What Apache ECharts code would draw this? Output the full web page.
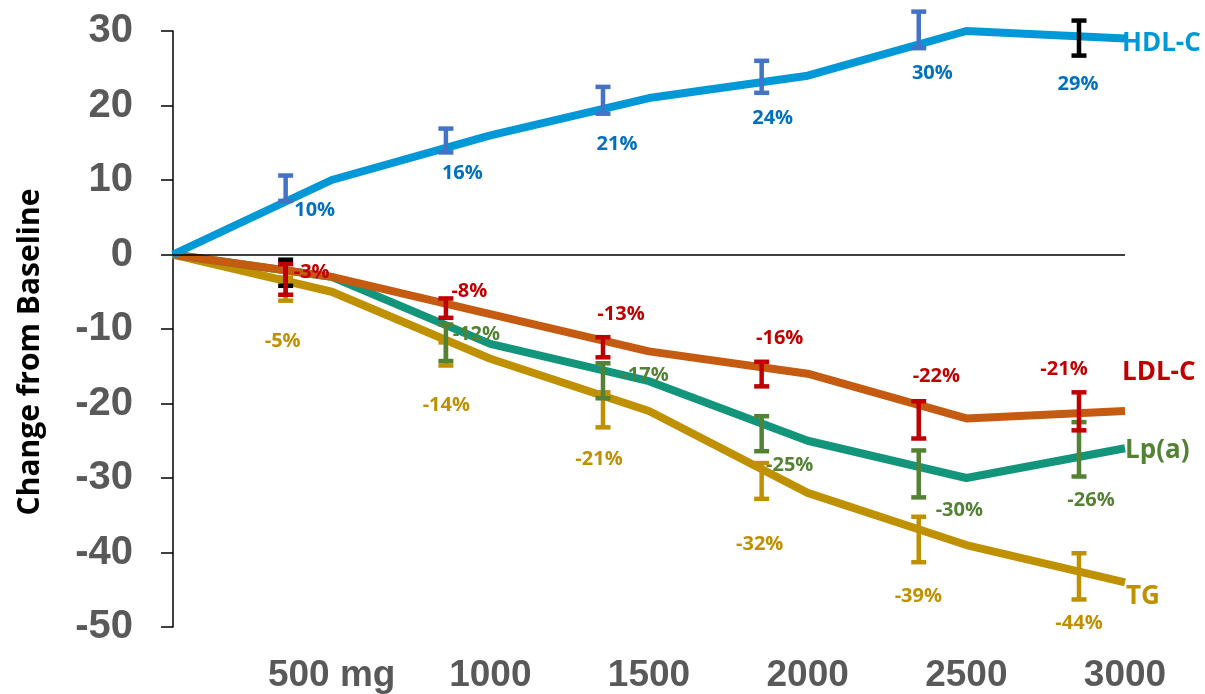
<!DOCTYPE html>
<html>
<head>
<meta charset="utf-8">
<script src="https://cdn.jsdelivr.net/npm/echarts@6/dist/echarts.min.js"></script>
<style>
  html, body { margin: 0; padding: 0; background: #ffffff; }
  #chart { width: 1205px; height: 694px; }
</style>
</head>
<body>
<div id="chart"></div>
<script>
// Dose levels (mg) and mean percent change from baseline per lipid
const doses = [0, 500, 1000, 1500, 2000, 2500, 3000];
const hdlValues = [0, 10, 16, 21, 24, 30, 29];
const ldlValues = [0, -3, -8, -13, -16, -22, -21];
const lpaValues = [0, -3, -12, -17, -25, -30, -26];
const tgValues  = [0, -5, -14, -21, -32, -39, -44];

// Which points carry a percent label (Lp(a) at 500 mg is unlabeled)
const hdlLabeled = [false, true, true, true, true, true, true];
const ldlLabeled = [false, true, true, true, true, true, true];
const lpaLabeled = [false, false, true, true, true, true, true];
const tgLabeled  = [false, true, true, true, true, true, true];

// Error bars, drawn slightly ahead of each dose
const errDoses  = [355, 860, 1355, 1855, 2350, 2855];
const hdlErrLow  = [7.2, 13.7, 18.9, 21.7, 27.7, 26.7];
const hdlErrHigh = [10.6, 16.9, 22.5, 26.0, 32.6, 31.4];
const ldlErrLow  = [-5.4, -8.5, -13.8, -17.7, -24.7, -23.6];
const ldlErrHigh = [-1.3, -5.9, -11.1, -14.4, -19.7, -18.5];
const ldlRefLow  = [-4.2];
const ldlRefHigh = [-0.7];
const lpaErrLow  = [null, -14.3, -19.3, -26.4, -32.6, -29.8];
const lpaErrHigh = [null, -9.4, -14.6, -21.7, -26.3, -22.5];
const tgErrLow   = [-6.2, -14.9, -23.2, -32.8, -41.3, -46.3];
const tgErrHigh  = [-3.1, -11.8, -18.5, -28.0, -35.2, -40.1];

// Axis ranges and steps
const yMin = -50, yMax = 30, yStep = 10;
const xMin = 0, xMax = 3000, xStep = 500;

// Styling
const colors = {
  hdl: '#0098D6', ldl: '#C55A11', lpa: '#12957A', tg: '#BF9000'
};
const textColors = {
  hdl: '#0070C0', ldl: '#C00000', lpa: '#548235', tg: '#BF9000'
};
const nameColors = {
  hdl: '#0098D6', ldl: '#C00000', lpa: '#548235', tg: '#BF9000'
};
// label offsets (px) relative to each dose point
const hdlLabelOffsets = [null, [-17, 30], [-28, 38], [-32, 46], [-35, 43], [-34, 42], [-47, 46]];
const ldlLabelOffsets = [null, [-20, -5], [-21, -23], [-28, -37], [-28, -35], [-30, -42], [-61, -42]];
const lpaLabelOffsets = [null, null, [-14, -10], [-4, -6], [-18, 25], [-7, 32], [-34, 52]];
const tgLabelOffsets  = [null, [-49, 50], [-44, 46], [-50, 48], [-48, 51], [-48, 51], [-46, 41]];
const endOffsets = { hdl: [-3, 5], ldl: [-3, -38], lpa: [0, 2], tg: [1, 14] };

const labelFont = '"Open Sans", "Noto Sans", sans-serif';

function lineSeries(name, key, values, labeled, offsets, extra) {
  const data = doses.map((d, i) => {
    const item = { value: [d, values[i]] };
    if (labeled[i]) {
      item.label = { show: true, offset: offsets[i] };
    }
    return item;
  });
  return Object.assign({
    name: name,
    type: 'line',
    data: data,
    z: 3,
    symbol: 'circle',
    symbolSize: 1,
    showSymbol: true,
    itemStyle: { color: 'rgba(0,0,0,0)', borderWidth: 0 },
    lineStyle: { color: colors[key], width: 8, cap: 'butt', join: 'round' },
    label: {
      show: false,
      position: 'inside',
      align: 'center',
      verticalAlign: 'middle',
      formatter: p => p.value[1] + '%',
      color: textColors[key],
      fontFamily: labelFont,
      fontWeight: 'bold',
      fontSize: 20
    },
    endLabel: {
      show: true,
      formatter: '{a}',
      distance: 0,
      offset: endOffsets[key],
      align: 'left',
      verticalAlign: 'middle',
      color: nameColors[key],
      fontFamily: labelFont,
      fontWeight: 'bold',
      fontSize: 26
    },
    emphasis: { disabled: true },
    silent: true
  }, extra || {});
}

function errorSeries(name, xs, lows, highs, colorOf, z) {
  const data = [];
  xs.forEach((x, i) => {
    if (lows[i] != null) data.push([x, lows[i], highs[i], i]);
  });
  return {
    name: name,
    type: 'custom',
    z: z,
    silent: true,
    encode: { x: 0, y: [1, 2] },
    data: data,
    renderItem: (params, api) => {
      const x = api.value(0);
      const lo = api.coord([x, api.value(1)]);
      const hi = api.coord([x, api.value(2)]);
      const hw = 7.5;
      const style = { stroke: colorOf(api.value(3)), lineWidth: 4.5, fill: null };
      return {
        type: 'group',
        children: [
          { type: 'line', shape: { x1: lo[0], y1: lo[1], x2: hi[0], y2: hi[1] }, style: style },
          { type: 'line', shape: { x1: lo[0] - hw, y1: lo[1], x2: lo[0] + hw, y2: lo[1] }, style: style },
          { type: 'line', shape: { x1: hi[0] - hw, y1: hi[1], x2: hi[0] + hw, y2: hi[1] }, style: style }
        ]
      };
    }
  };
}

const chart = echarts.init(document.getElementById('chart'), null, { renderer: 'canvas' });

const option = {
  animation: false,
  backgroundColor: '#ffffff',
  grid: { left: 173, right: 80, top: 31, bottom: 67 },
  xAxis: {
    type: 'value',
    min: xMin,
    max: xMax,
    interval: xStep,
    axisLine: { show: false },
    axisTick: { show: false },
    splitLine: { show: false },
    axisLabel: {
      margin: 30,
      color: '#595959',
      fontFamily: '"Liberation Sans", Arial, sans-serif',
      fontWeight: 'bold',
      fontSize: 37,
      formatter: v => v === 0 ? '' : (v === 500 ? '500 mg' : String(v))
    }
  },
  yAxis: {
    type: 'value',
    min: yMin,
    max: yMax,
    interval: yStep,
    axisLine: { show: true, onZero: false, lineStyle: { color: '#000000', width: 1.5 } },
    axisTick: { show: true, inside: false, length: 12, lineStyle: { color: '#000000', width: 1.5 } },
    splitLine: { show: false },
    axisLabel: {
      margin: 40,
      color: '#595959',
      fontFamily: '"Liberation Sans", Arial, sans-serif',
      fontWeight: 'bold',
      fontSize: 40
    }
  },
  graphic: [{
    type: 'text',
    x: 30,
    y: 352,
    rotation: Math.PI / 2,
    style: {
      text: 'Change from Baseline',
      align: 'center',
      verticalAlign: 'middle',
      fill: '#000000',
      font: 'bold 30px "Open Sans", "Noto Sans", sans-serif'
    }
  }],
  series: [
    lineSeries('TG', 'tg', tgValues, tgLabeled, tgLabelOffsets, {
      markLine: {
        silent: true,
        symbol: 'none',
        label: { show: false },
        lineStyle: { color: '#000000', width: 1.5, type: 'solid' },
        data: [{ yAxis: 0 }]
      },
      z: 2
    }),
    lineSeries('Lp(a)', 'lpa', lpaValues, lpaLabeled, lpaLabelOffsets),
    lineSeries('LDL-C', 'ldl', ldlValues, ldlLabeled, ldlLabelOffsets),
    lineSeries('HDL-C', 'hdl', hdlValues, hdlLabeled, hdlLabelOffsets),
    errorSeries('TG error', errDoses, tgErrLow, tgErrHigh, () => '#BF9000', 5),
    errorSeries('Lp(a) error', errDoses, lpaErrLow, lpaErrHigh, () => '#548235', 5),
    errorSeries('LDL-C reference', errDoses, ldlRefLow, ldlRefHigh, () => '#000000', 5),
    errorSeries('LDL-C error', errDoses, ldlErrLow, ldlErrHigh, () => '#C00000', 6),
    errorSeries('HDL-C error', errDoses, hdlErrLow, hdlErrHigh, i => i === 5 ? '#000000' : '#4472C4', 6)
  ]
};

chart.setOption(option);
</script>
</body>
</html>
